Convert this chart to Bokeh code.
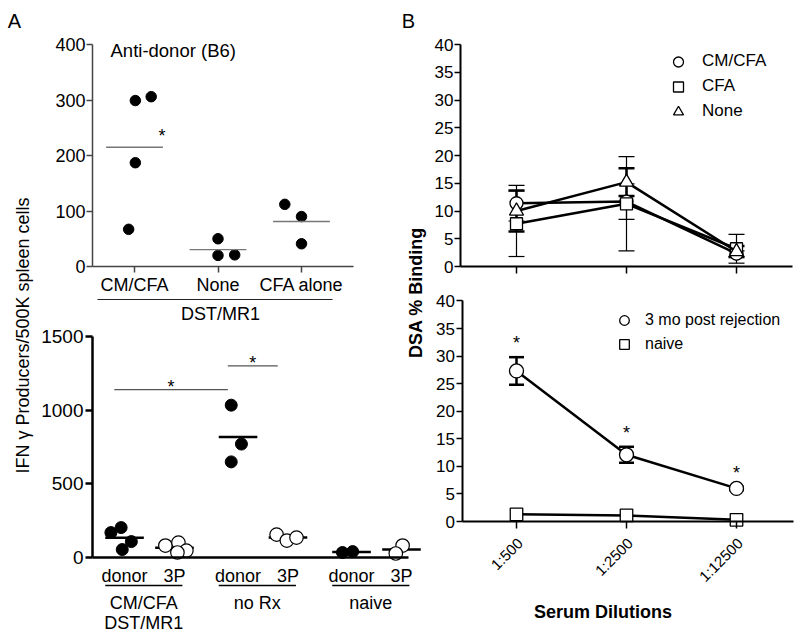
import math
from bokeh.plotting import figure
from bokeh.models import (Range1d, LinearAxis, FixedTicker, Whisker, ColumnDataSource,
                          Legend, LegendItem, TeeHead)
from bokeh.core.properties import value
from bokeh.embed import file_html
from bokeh.resources import INLINE

# ---------------- data ----------------
# Panel A, top: anti-donor (B6) response, all DST/MR1 treated
a_top_groups = ["CM/CFA", "None", "CFA alone"]
a_top_cmcfa = [299, 306, 187, 67]
a_top_none = [50, 20, 21]
a_top_cfa = [112, 90, 41]
a_top_ticks = [0, 100, 200, 300, 400]

# Panel A, bottom
a_bot_groups = [["CM/CFA", "DST/MR1"], ["no Rx"], ["naive"]]
a_bot_targets = ["donor", "3P"]
a_bot_cmcfa_donor = [169, 203, 108, 54]
a_bot_cmcfa_3p = [81, 101, 47, 34]
a_bot_norx_donor = [1034, 770, 649]
a_bot_norx_3p = [155, 115, 135]
a_bot_naive_donor = [34, 40]
a_bot_naive_3p = [81, 27]
a_bot_ticks = [0, 500, 1000, 1500]
a_bot_sig_y = [1140, 1300]

# Panel B
dilutions = ["1:500", "1:2500", "1:12500"]
b_top_labels = ["CM/CFA", "CFA", "None"]
b_top_cmcfa = [11.4, 11.7, 2.3]
b_top_cmcfa_sem = [3.2, 3.2, 0.5]
b_top_cfa = [7.7, 11.3, 3.2]
b_top_cfa_sem = [5.9, 8.5, 2.6]
b_top_none = [10.0, 15.2, 2.7]
b_top_none_sem = [3.7, 2.5, 1.0]
b_bot_labels = ["3 mo post rejection", "naive"]
b_bot_post = [27.3, 12.1, 6.0]
b_bot_post_sem = [2.5, 1.45, 0.3]
b_bot_naive = [1.3, 1.1, 0.3]
b_ticks = [0, 5, 10, 15, 20, 25, 30, 35, 40]

# ---------------- layout ----------------
W, H = 796, 631
OX, OY = 0, 0
FONT = "Liberation Sans"

# horizontal scatter offsets inside a category (beeswarm)
a_top_jit = [[0.01, 0.2, 0.01, -0.07], [0.0, 0.0, 0.2], [-0.2, 0.0, 0.0]]
a_bot_jit_donor = [[-0.12, -0.03, 0.06, -0.02], [-0.06, 0.03, -0.06], [-0.08, 0.01]]
a_bot_jit_3p = [[-0.08, 0.035, 0.105, 0.026], [-0.1, -0.01, 0.075], [0.01, -0.05]]
SUB = 0.22


def x_range(v0, p0, v1, p1):
    a0, a1 = p0 - OX, p1 - OX
    k = (v1 - v0) / (a1 - a0)
    return Range1d(start=v0 - a0 * k, end=v0 + (W - a0) * k)


def y_range(v0, p0, v1, p1):
    b0, b1 = p0 - OY, p1 - OY
    k = (v1 - v0) / (b1 - b0)
    return Range1d(start=v0 + (H - b0) * k, end=v0 - b0 * k)


def xval(r, px):
    return r.start + (px - OX) / W * (r.end - r.start)


def yval(r, py):
    return r.end + (py - OY) / H * (r.start - r.end)


def xpix(r, v):
    return OX + (v - r.start) / (r.end - r.start) * W


p = figure(width=W, height=H, x_range=Range1d(OX, OX + W), y_range=Range1d(OY + H, OY),
           x_axis_type=None, y_axis_type=None, toolbar_location=None,
           output_backend="svg", min_border=0, outline_line_color=None, title=None)
p.min_border_left = p.min_border_right = p.min_border_top = p.min_border_bottom = 0
p.background_fill_color = "white"

xAt = x_range(0, 134, 2, 301)
yAt = y_range(0, 266, 400, 44)
xAb = x_range(0, 149, 2, 376)
yAb = y_range(0, 557, 1500, 336)
xB = x_range(0, 516, 2, 736)
yBt = y_range(0, 266, 40, 44)
yBb = y_range(0, 521, 35, 328)
p.extra_x_ranges = {"xAt": xAt, "xAb": xAb, "xB": xB}
p.extra_y_ranges = {"yAt": yAt, "yAb": yAb, "yBt": yBt, "yBb": yBb}


def add_axis(side, xr, yr, loc, bounds, ticks, lw, color, fsize, tick_out, standoff,
             overrides=None, orientation="horizontal", labels=True, tick_lw=None):
    ax = LinearAxis(x_range_name=xr, y_range_name=yr, fixed_location=loc, bounds=bounds,
                    ticker=FixedTicker(ticks=ticks, minor_ticks=[]),
                    axis_line_width=lw, axis_line_color=color,
                    major_tick_line_width=tick_lw or lw, major_tick_line_color=color,
                    major_tick_out=tick_out, major_tick_in=0, minor_tick_line_color=None,
                    major_label_text_font=FONT, major_label_text_font_size=fsize,
                    major_label_text_color="black" if labels else None,
                    major_label_standoff=standoff, major_label_orientation=orientation)
    if overrides:
        ax.major_label_overrides = overrides
    p.add_layout(ax, side)


def txt(x, y, s, size, align="center", baseline="middle", angle=0, bold=False,
        xr=None, yr=None):
    kw = {}
    if xr:
        kw["x_range_name"] = xr
    if yr:
        kw["y_range_name"] = yr
    p.text(x=[x], y=[y], text=[s], angle=angle, text_font=value(FONT),
           text_font_size=size, text_align=align, text_baseline=baseline,
           text_color="black", text_font_style="bold" if bold else "normal", **kw)


# ================= Panel A top =================
add_axis("left", "xAt", "yAt", xval(xAt, 92), (0, 400), a_top_ticks, 1.5, "#444",
         "18px", 6, 1)
add_axis("below", "xAt", "yAt", 0, (xval(xAt, 92), xval(xAt, 353)), [0, 1, 2], 1.5, "#444",
         "18px", 6, 2, overrides={i: g for i, g in enumerate(a_top_groups)})

a_top_vals = [a_top_cmcfa, a_top_none, a_top_cfa]
for gi, vals in enumerate(a_top_vals):
    xs = [gi + j for j in a_top_jit[gi]]
    p.scatter(xs, vals, x_range_name="xAt", y_range_name="yAt", size=10.5,
              color="black")
    m = sum(vals) / len(vals)
    p.segment(x0=[gi - 0.34], x1=[gi + 0.34], y0=[m], y1=[m], x_range_name="xAt",
              y_range_name="yAt", line_color="#777", line_width=1.4)
    if gi == 0:
        txt(gi + 0.33, m + 20, "*", "18px", xr="xAt", yr="yAt")

txt(110, 50, "Anti-donor (B6)", "18.5px", align="left")
p.segment(x0=[97], x1=[332], y0=[299], y1=[299], line_color="#222", line_width=1.2)
txt(220, 313, "DST/MR1", "18px")

# ================= Panel A bottom =================
add_axis("left", "xAb", "yAb", xval(xAb, 92), (0, 1500), a_bot_ticks, 2.5, "black",
         "19px", 7, 2)
a_bot_pos = [g + d for g in range(3) for d in (-SUB, SUB)]
add_axis("below", "xAb", "yAb", 0, (xval(xAb, 92), xval(xAb, 408)), a_bot_pos, 2.5,
         "black", "18px", 0, 8,
         overrides={pos: a_bot_targets[i % 2] for i, pos in enumerate(a_bot_pos)})

donor_vals = [a_bot_cmcfa_donor, a_bot_norx_donor, a_bot_naive_donor]
p3_vals = [a_bot_cmcfa_3p, a_bot_norx_3p, a_bot_naive_3p]
for g in range(3):
    for vals, jit, d, filled in ((donor_vals[g], a_bot_jit_donor[g], -SUB, True),
                                 (p3_vals[g], a_bot_jit_3p[g], SUB, False)):
        c = g + d
        m = sum(vals) / len(vals)
        p.segment(x0=[c - 0.17], x1=[c + 0.17], y0=[m], y1=[m], x_range_name="xAb",
                  y_range_name="yAb", line_color="black", line_width=2.5)
        xs = [c + j for j in jit]
        if filled:
            p.scatter(xs, vals, x_range_name="xAb", y_range_name="yAb", size=12,
                      color="black")
        else:
            p.scatter(xs, vals, x_range_name="xAb", y_range_name="yAb", size=13.5,
                      fill_color="white", line_color="black", line_width=1.2)

# significance bars
sig_pairs = [(0 - SUB, 1 - SUB), (1 - SUB, 1 + SUB)]
for (a, b), yv in zip(sig_pairs, a_bot_sig_y):
    p.segment(x0=[a - 0.09], x1=[b - 0.09], y0=[yv], y1=[yv], x_range_name="xAb",
              y_range_name="yAb", line_color="#555", line_width=1.2)
    txt((a + b) / 2 - 0.09, yv + 20, "*", "18px", xr="xAb", yr="yAb")

y_ul = yval(yAb, 585)
for g, lines in enumerate(a_bot_groups):
    c = g - 0.05
    p.segment(x0=[c - 0.34], x1=[c + 0.34], y0=[y_ul], y1=[y_ul], x_range_name="xAb",
              y_range_name="yAb", line_color="black", line_width=1.5)
    for k, s in enumerate(lines):
        txt(c, yval(yAb, 602 + 20 * k), s, "18px", xr="xAb", yr="yAb")

txt(14, 20, "A", "20px")
txt(22, 335, "IFN γ Producers/500K spleen cells", "18px", angle=math.pi / 2)

# ================= Panel B top =================
add_axis("left", "xB", "yBt", xval(xB, 460), (0, 40), b_ticks, 2, "black", "17px", 6, 1,
         tick_lw=1.5)
add_axis("below", "xB", "yBt", 0, (xval(xB, 460), xval(xB, 792)), [0, 1, 2], 2, "black",
         "15px", 7, 2, labels=False, tick_lw=1.5)

xs_b = [0, 1, 2]
top_items = []
for lab, mean, sem, mk, sz, wlw in ((b_top_labels[0], b_top_cmcfa, b_top_cmcfa_sem, "circle", 13, 1.2),
                                    (b_top_labels[1], b_top_cfa, b_top_cfa_sem, "square", 12, 1.2),
                                    (b_top_labels[2], b_top_none, b_top_none_sem, "triangle", 14, 2.5)):
    src = ColumnDataSource(dict(x=xs_b, y=mean,
                                lo=[m - s for m, s in zip(mean, sem)],
                                hi=[m + s for m, s in zip(mean, sem)]))
    p.add_layout(Whisker(source=src, base="x", lower="lo", upper="hi",
                         x_range_name="xB", y_range_name="yBt",
                         line_color="black", line_width=wlw,
                         upper_head=TeeHead(size=16, line_width=wlw, line_color="black"),
                         lower_head=TeeHead(size=16, line_width=wlw, line_color="black")))
    p.line("x", "y", source=src, x_range_name="xB", y_range_name="yBt",
           line_color="black", line_width=2.5)
    r = p.scatter("x", "y", source=src, x_range_name="xB", y_range_name="yBt", marker=mk,
                  size=sz, fill_color="white", line_color="black", line_width=1.3)
    top_items.append(LegendItem(label=lab, renderers=[r]))

leg_top_bottom_edge = 123.5
p.add_layout(Legend(items=top_items, location=(665 - OX, H + OY - leg_top_bottom_edge),
                    orientation="vertical",
                    glyph_width=26, glyph_height=25, label_height=25, spacing=0,
                    padding=0, margin=0, label_standoff=11, label_text_font=FONT,
                    label_text_font_size="17px", label_text_color="black",
                    border_line_color=None, background_fill_alpha=0))

# ================= Panel B bottom =================
add_axis("left", "xB", "yBb", xval(xB, 461.5), (0, 40), b_ticks, 2, "black", "17px", 6, 1,
         tick_lw=1.5)
add_axis("below", "xB", "yBb", 0, (xval(xB, 461.5), xval(xB, 793)), [0, 1, 2], 2, "black",
         "15px", 7, 3, labels=False, tick_lw=1.5)
# slanted dilution tick labels, anchored (in page pixels) just below each tick
for i, d in enumerate(dilutions):
    txt(xpix(xB, i) + 3.5, 540, d, "15px", align="right", angle=math.pi / 4)

src_post = ColumnDataSource(dict(x=xs_b, y=b_bot_post,
                                 lo=[m - s for m, s in zip(b_bot_post, b_bot_post_sem)],
                                 hi=[m + s for m, s in zip(b_bot_post, b_bot_post_sem)]))
p.add_layout(Whisker(source=src_post, base="x", lower="lo", upper="hi",
                     x_range_name="xB", y_range_name="yBb",
                     line_color="black", line_width=2.5,
                     upper_head=TeeHead(size=15, line_width=2.5, line_color="black"),
                     lower_head=TeeHead(size=15, line_width=2.5, line_color="black")))
p.line("x", "y", source=src_post, x_range_name="xB", y_range_name="yBb",
       line_color="black", line_width=2.5)
r_post = p.scatter("x", "y", source=src_post, x_range_name="xB", y_range_name="yBb",
                   marker="circle", size=14, fill_color="white", line_color="black",
                   line_width=1.3)
src_naive = ColumnDataSource(dict(x=xs_b, y=b_bot_naive))
p.line("x", "y", source=src_naive, x_range_name="xB", y_range_name="yBb",
       line_color="black", line_width=2.5)
r_naive = p.scatter("x", "y", source=src_naive, x_range_name="xB", y_range_name="yBb",
                    marker="square", size=12.5, fill_color="white", line_color="black",
                    line_width=1.3)
for i in range(3):
    txt(i, b_bot_post[i] + b_bot_post_sem[i] + 2.5, "*", "18px", xr="xB", yr="yBb")

p.add_layout(Legend(items=[LegendItem(label=b_bot_labels[0], renderers=[r_post]),
                           LegendItem(label=b_bot_labels[1], renderers=[r_naive])],
                    location=(612 - OX, H + OY - 356), orientation="vertical",
                    glyph_width=24, glyph_height=24, label_height=24, spacing=0,
                    padding=0, margin=0, label_standoff=9, label_text_font=FONT,
                    label_text_font_size="16px", label_text_color="black",
                    border_line_color=None, background_fill_alpha=0))

txt(408, 20, "B", "20px")
txt(415, 292, "DSA % Binding", "18px", angle=math.pi / 2, bold=True)
txt(605, 611, "Serum  Dilutions", "18px", bold=True)

open("out.html", "w").write(file_html(p, INLINE))
